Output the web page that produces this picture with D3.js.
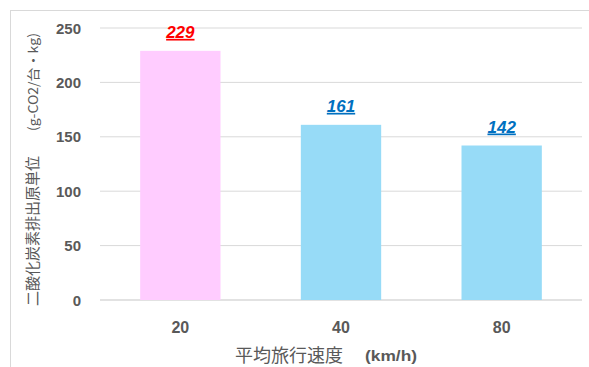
<!DOCTYPE html>
<html>
<head>
<meta charset="UTF-8">
<script src="https://d3js.org/d3.v7.min.js"></script>
<style>
  body { margin: 0; background: #fff; }
  text { font-family: "Liberation Sans", Arial, sans-serif; }
  .jp { font-family: "Noto Sans CJK JP", sans-serif; }
</style>
</head>
<body>
<svg width="589" height="367"></svg>
<script>
  // data
  let speeds = ["20", "40", "80"];
  let values = [229, 161, 142];
  let barColors = ["#FFCCFF", "#97DBF7", "#97DBF7"];
  let labelColors = ["#FF0000", "#0070C0", "#0070C0"];
  let yTicks = [0, 50, 100, 150, 200, 250];

  let svg = d3.select("svg");
  let plotLeft = 100, plotRight = 582, plotTop = 28, plotBottom = 300;

  // chart frame (cut off at right and bottom)
  svg.append("rect")
    .attr("x", 10.5).attr("y", 10.5)
    .attr("width", 600).attr("height", 400)
    .attr("fill", "none").attr("stroke", "#D9D9D9").attr("stroke-width", 1);

  let x = d3.scaleBand().domain(speeds).range([plotLeft, plotRight]).paddingInner(0.5).paddingOuter(0.25);
  let y = d3.scaleLinear().domain([0, 250]).range([plotBottom, plotTop]);

  // gridlines
  svg.append("g").selectAll("line")
    .data(yTicks)
    .enter().append("line")
    .attr("x1", plotLeft).attr("x2", plotRight)
    .attr("y1", d => y(d)).attr("y2", d => y(d))
    .attr("stroke", "#D9D9D9").attr("stroke-width", d => d === 0 ? 1.5 : 1);

  // y tick labels
  svg.append("g").selectAll("text")
    .data(yTicks)
    .enter().append("text")
    .attr("x", 81).attr("y", d => y(d) + 5.5)
    .attr("text-anchor", "end")
    .attr("font-size", "15px").attr("font-weight", "bold").attr("fill", "#595959")
    .text(d => d);

  // bars
  svg.append("g").selectAll("rect")
    .data(values)
    .enter().append("rect")
    .attr("x", (d, i) => x(speeds[i]))
    .attr("y", d => y(d))
    .attr("width", x.bandwidth())
    .attr("height", d => y(0) - y(d))
    .attr("fill", (d, i) => barColors[i]);

  // value labels
  svg.append("g").selectAll("text")
    .data(values)
    .enter().append("text")
    .attr("x", (d, i) => x(speeds[i]) + x.bandwidth() / 2)
    .attr("y", d => y(d) - 13)
    .attr("text-anchor", "middle")
    .attr("font-size", "17px").attr("font-weight", "bold").attr("font-style", "italic")
    .attr("text-decoration", "underline")
    .attr("fill", (d, i) => labelColors[i])
    .text(d => d);

  // x tick labels
  svg.append("g").selectAll("text")
    .data(speeds)
    .enter().append("text")
    .attr("x", d => x(d) + x.bandwidth() / 2)
    .attr("y", 333)
    .attr("text-anchor", "middle")
    .attr("font-size", "16px").attr("font-weight", "bold").attr("fill", "#595959")
    .text(d => d);

  // x axis title
  svg.append("text")
    .attr("class", "jp")
    .attr("x", 235).attr("y", 362)
    .attr("fill", "#595959").attr("font-size", "18px")
    .text("平均旅行速度");
  svg.append("text")
    .attr("x", 365).attr("y", 361)
    .attr("fill", "#595959").attr("font-size", "15px").attr("font-weight", "bold")
    .attr("textLength", 52).attr("lengthAdjust", "spacingAndGlyphs")
    .text("(km/h)");

  // y axis title
  svg.append("text")
    .attr("class", "jp")
    .attr("transform", "translate(38,306) rotate(-90)")
    .attr("fill", "#595959").attr("font-size", "15px")
    .text("二酸化炭素排出原単位");
  svg.append("text")
    .attr("class", "jp")
    .attr("transform", "translate(38,131) rotate(-90)")
    .attr("fill", "#595959").attr("font-size", "13px")
    .attr("textLength", 98).attr("lengthAdjust", "spacingAndGlyphs")
    .text("(g-CO2/台・kg)");
</script>
</body>
</html>
